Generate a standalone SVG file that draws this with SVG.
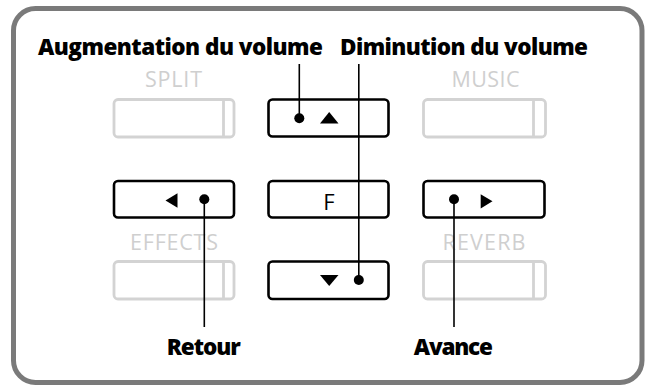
<svg xmlns="http://www.w3.org/2000/svg" width="646" height="385" viewBox="0 0 646 385">
<style>
.btn{fill:#fff;stroke:#000;stroke-width:2.6}
.gbtn{fill:#fff;stroke:#d3d3d3;stroke-width:2.8}
.gdiv{stroke:#d3d3d3;stroke-width:2.8}
.glbl{font-family:"Open Sans",sans-serif;font-size:21.5px;fill:#cfcfcf;text-anchor:middle}
.lbl{font-family:"Open Sans",sans-serif;font-weight:800;font-size:22.5px;fill:#000;text-anchor:middle}
.conn{stroke:#000;stroke-width:1.6;fill:none}
.dot{fill:#000}
.tri{fill:#000}
</style>
<rect x="13.5" y="8.5" width="628.5" height="374" rx="22" fill="#fff" stroke="#7a7a7a" stroke-width="5"/>
<g id="split">
<rect class="gbtn" x="114" y="99.5" width="120" height="37.5" rx="4"/>
<line class="gdiv" x1="223.5" y1="99.5" x2="223.5" y2="137"/>
<text class="glbl" x="173.5" y="87" textLength="57">SPLIT</text>
</g>
<g id="music">
<rect class="gbtn" x="423.5" y="99.5" width="122" height="37.5" rx="4"/>
<line class="gdiv" x1="533.5" y1="99.5" x2="533.5" y2="137"/>
<text class="glbl" x="485.5" y="87" textLength="68">MUSIC</text>
</g>
<g id="effects">
<rect class="gbtn" x="114" y="261.5" width="120" height="37.5" rx="4"/>
<line class="gdiv" x1="223.5" y1="261.5" x2="223.5" y2="299"/>
<text class="glbl" x="174" y="249.5" textLength="88">EFFECTS</text>
</g>
<g id="reverb">
<rect class="gbtn" x="423.5" y="261.5" width="122" height="37.5" rx="4"/>
<line class="gdiv" x1="533.5" y1="261.5" x2="533.5" y2="299"/>
<text class="glbl" x="484" y="249.5" textLength="83">REVERB</text>
</g>
<g id="up">
<rect class="btn" x="268.5" y="99.5" width="120" height="37" rx="4"/>
<polygon class="tri" points="320,123.5 338.5,123.5 329.2,112"/>
</g>
<g id="f">
<rect class="btn" x="268.5" y="181" width="120" height="36.5" rx="4"/>
<text x="329" y="210" font-family="Open Sans, sans-serif" font-size="22" text-anchor="middle" fill="#000">F</text>
</g>
<g id="down">
<rect class="btn" x="268.5" y="261.5" width="120" height="37.5" rx="4"/>
<polygon class="tri" points="320,275 338.5,275 329.2,286"/>
</g>
<g id="left">
<rect class="btn" x="114" y="181" width="120" height="36.5" rx="4"/>
<polygon class="tri" points="165.5,200.5 177.5,193.3 177.5,207.8"/>
</g>
<g id="right">
<rect class="btn" x="423.5" y="181" width="121" height="36.5" rx="4"/>
<polygon class="tri" points="492.5,201.3 480.7,194.2 480.7,208.6"/>
</g>
<g id="connectors">
<line class="conn" x1="299.3" y1="64" x2="299.3" y2="118.3"/>
<circle class="dot" cx="299.3" cy="118.3" r="5"/>
<line class="conn" x1="358.8" y1="64" x2="358.8" y2="280"/>
<circle class="dot" cx="358.8" cy="280" r="5"/>
<line class="conn" x1="204.3" y1="199.3" x2="204.3" y2="327"/>
<circle class="dot" cx="204.3" cy="199.3" r="5"/>
<line class="conn" x1="454" y1="199.3" x2="454" y2="327"/>
<circle class="dot" cx="454" cy="199.3" r="5"/>
</g>
<g id="labels">
<text class="lbl" x="180.5" y="55" textLength="285">Augmentation du volume</text>
<text class="lbl" x="464" y="55" textLength="248">Diminution du volume</text>
<text class="lbl" x="203.7" y="355" textLength="74">Retour</text>
<text class="lbl" x="453.3" y="355" textLength="79">Avance</text>
</g>
</svg>
